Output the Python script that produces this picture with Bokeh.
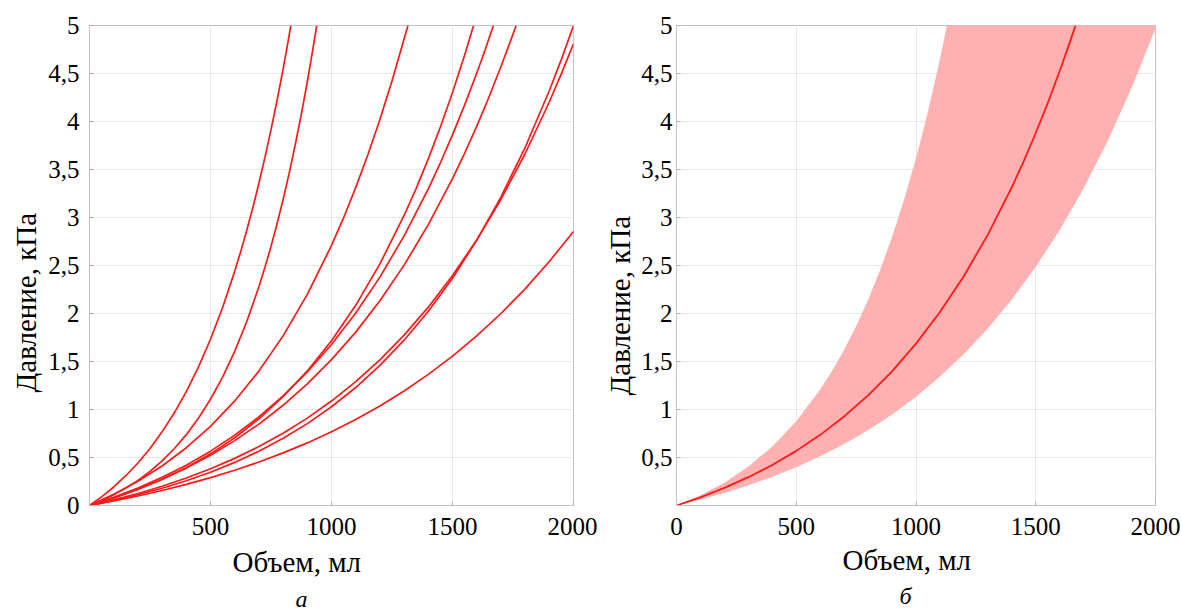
from bokeh.plotting import figure
from bokeh.layouts import row
from bokeh.models import FixedTicker, CustomJSTickFormatter, Range1d, Title
from bokeh.embed import file_html
from bokeh.resources import INLINE

# ---------------- data: panel "а" (individual pressure-volume curves) ----------------
c1_v = [0, 50, 100, 150, 200, 250, 300, 350, 400, 450, 500, 550, 600, 625, 650, 675, 700, 725, 750, 775, 800, 815, 832]
c1_p = [0, 0.090, 0.193, 0.310, 0.443, 0.594, 0.767, 0.963, 1.187, 1.442, 1.732, 2.063, 2.439, 2.647, 2.868, 3.104,
        3.357, 3.626, 3.913, 4.219, 4.546, 4.753, 5.0]

c2_v = [0, 50, 100, 150, 200, 250, 300, 350, 400, 450, 500, 550, 600, 650, 700, 725, 750, 775, 800, 825, 850, 875, 900, 920, 939]
c2_p = [0, 0.051, 0.111, 0.181, 0.261, 0.355, 0.464, 0.591, 0.738, 0.909, 1.107, 1.338, 1.606, 1.917, 2.279, 2.481,
        2.699, 2.934, 3.187, 3.460, 3.755, 4.072, 4.414, 4.706, 5.0]

c3_v = [0, 100, 200, 300, 400, 500, 600, 700, 800, 900, 1000, 1050, 1100, 1150, 1200, 1250, 1316]
c3_p = [0, 0.116, 0.252, 0.412, 0.602, 0.825, 1.089, 1.400, 1.767, 2.199, 2.709, 2.997, 3.311, 3.651, 4.020, 4.421, 5.0]

c4_v = [0, 100, 200, 300, 400, 500, 600, 700, 800, 900, 1000, 1100, 1200, 1300, 1350, 1400, 1450, 1500, 1550, 1587]
c4_p = [0, 0.077, 0.166, 0.271, 0.394, 0.538, 0.706, 0.903, 1.133, 1.402, 1.717, 2.085, 2.517, 3.021, 3.304, 3.611, 3.943, 4.302, 4.690, 5.0]

c5_v = [0, 100, 200, 300, 400, 500, 600, 700, 800, 900, 1000, 1100, 1200, 1300, 1400, 1450, 1500, 1550, 1600, 1635, 1669]
c5_p = [0, 0.085, 0.182, 0.293, 0.420, 0.566, 0.733, 0.923, 1.142, 1.391, 1.677, 2.005, 2.379, 2.808, 3.299, 3.570, 3.860, 4.171, 4.503, 4.748, 5.0]

c6_v = [0, 100, 200, 300, 400, 500, 600, 700, 800, 900, 1000, 1100, 1200, 1300, 1400, 1500, 1550, 1600, 1650, 1700, 1730, 1763]
c6_p = [0, 0.080, 0.171, 0.274, 0.391, 0.524, 0.676, 0.848, 1.044, 1.266, 1.519, 1.806, 2.133, 2.504, 2.926, 3.405, 3.669, 3.950, 4.250, 4.570, 4.772, 5.0]

c7_v = [0, 100, 200, 300, 400, 500, 600, 700, 800, 900, 1000, 1100, 1200, 1300, 1400, 1500, 1600, 1700, 1800, 1900, 1950, 2000]
c7_p = [0, 0.052, 0.112, 0.180, 0.258, 0.347, 0.449, 0.566, 0.700, 0.853, 1.029, 1.229, 1.459, 1.722, 2.023, 2.367, 2.762, 3.213, 3.729, 4.320, 4.647, 5.0]

c8_v = [0, 100, 200, 300, 400, 500, 600, 700, 800, 900, 1000, 1100, 1200, 1300, 1400, 1500, 1600, 1700, 1800, 1900, 1950, 2000]
c8_p = [0, 0.059, 0.125, 0.201, 0.286, 0.382, 0.491, 0.614, 0.753, 0.910, 1.088, 1.290, 1.517, 1.775, 2.066, 2.395, 2.767, 3.188, 3.664, 4.203, 4.498, 4.81]

c9_v = [0, 100, 200, 300, 400, 500, 600, 700, 800, 900, 1000, 1100, 1200, 1300, 1400, 1500, 1600, 1700, 1800, 1900, 2000]
c9_p = [0, 0.047, 0.099, 0.156, 0.220, 0.290, 0.367, 0.453, 0.548, 0.652, 0.768, 0.896, 1.037, 1.193, 1.366, 1.556, 1.767, 2.000, 2.257, 2.542, 2.855]

curves_v = [c1_v, c2_v, c3_v, c4_v, c5_v, c6_v, c7_v, c8_v, c9_v]
curves_p = [c1_p, c2_p, c3_p, c4_p, c5_p, c6_p, c7_p, c8_p, c9_p]

# ---------------- data: panel "б" (mean curve and spread band) ----------------
mean_v = [0, 100, 200, 300, 400, 500, 600, 700, 800, 900, 1000, 1100, 1200, 1300, 1400, 1450, 1500, 1550, 1600, 1635, 1666]
mean_p = [0, 0.085, 0.183, 0.295, 0.422, 0.569, 0.736, 0.928, 1.147, 1.398, 1.686, 2.015, 2.391, 2.822, 3.315, 3.588, 3.880, 4.192, 4.526, 4.772, 5.0]

band_v = [0, 100, 200, 300, 400, 500, 600, 650, 700, 750, 800, 850, 900, 950, 1000, 1025, 1050, 1075, 1100, 1129,
          1200, 1300, 1400, 1500, 1600, 1700, 1800, 1900, 2000]
band_lo = [0, 0.062, 0.131, 0.210, 0.299, 0.399, 0.513, 0.575, 0.641, 0.711, 0.786, 0.865, 0.949, 1.039, 1.134, 1.184, 1.236, 1.288, 1.343, 1.411,
           1.579, 1.845, 2.146, 2.486, 2.870, 3.304, 3.795, 4.349, 4.97]
band_hi = [0, 0.106, 0.238, 0.405, 0.614, 0.877, 1.208, 1.403, 1.622, 1.868, 2.144, 2.452, 2.798, 3.186, 3.620, 3.857, 4.107, 4.373, 4.653, 5.0,
           5.0, 5.0, 5.0, 5.0, 5.0, 5.0, 5.0, 5.0, 5.0]

# ticks
x_ticks_a = [500, 1000, 1500, 2000]
x_ticks_b = [0, 500, 1000, 1500, 2000]
y_ticks_a = [0, 0.5, 1, 1.5, 2, 2.5, 3, 3.5, 4, 4.5, 5]
y_ticks_b = [0.5, 1, 1.5, 2, 2.5, 3, 3.5, 4, 4.5, 5]

X_TITLE = "Объем, мл"
Y_TITLE = "Давление, кПа"
CAPTION_A = "а"
CAPTION_B = "б"

FONT = "Liberation Serif"
RED = "#ff1a1a"
GRID = "#e8e8e8"
EDGE = "#c4c4c4"


def make_fig(width, bl, br, bt, bb, xt, yt, y_lab_sd):
    p = figure(width=width, height=613, x_range=Range1d(0, 2000), y_range=Range1d(0, 5),
               output_backend="svg", toolbar_location=None,
               min_border_left=bl, min_border_right=br, min_border_top=bt, min_border_bottom=bb)
    p.outline_line_color = EDGE
    p.background_fill_color = "white"
    p.border_fill_color = "white"
    p.xaxis.ticker = FixedTicker(ticks=xt)
    p.yaxis.ticker = FixedTicker(ticks=yt)
    p.xaxis.formatter = CustomJSTickFormatter(code="return String(tick);")
    p.yaxis.formatter = CustomJSTickFormatter(code="return String(tick).replace('.', ',');")
    for ax in list(p.xaxis) + list(p.yaxis):
        ax.axis_line_color = EDGE
        ax.major_tick_line_color = "#b0b0b0"
        ax.major_tick_in = 4
        ax.major_tick_out = 0
        ax.minor_tick_line_color = None
        ax.major_label_text_font = FONT
        ax.major_label_text_font_size = "25px"
        ax.major_label_text_color = "black"
    p.xaxis.major_label_standoff = 12
    p.yaxis.major_label_standoff = y_lab_sd
    p.grid.grid_line_color = GRID
    p.grid.grid_line_width = 1
    return p


def text_title(text, offset, standoff, size="29px", style="normal"):
    # axis titles / captions placed in the side panels next to the axes
    return Title(text=text, align="left", offset=offset, standoff=standoff,
                 text_font=FONT, text_font_size=size, text_font_style=style,
                 text_color="black")


# ---------------- panel а ----------------
pa = make_fig(597, 89, 24, 21, 107, x_ticks_a, y_ticks_a, 10)
for v, pr in zip(curves_v, curves_p):
    pa.line(v, pr, line_color=RED, line_width=1.7)
pa.add_layout(text_title(Y_TITLE, 113, 8), "left")
pa.add_layout(text_title(X_TITLE, 143, 12), "below")
pa.add_layout(text_title(CAPTION_A, 206, 0, "24px", "italic"), "below")

# ---------------- panel б ----------------
pb = make_fig(584, 79, 26, 25, 108, x_ticks_b, y_ticks_b, 4)
pb.varea(x=band_v, y1=band_lo, y2=band_hi, fill_color="#ffb0b0", fill_alpha=1.0)
pb.line(mean_v, mean_p, line_color=RED, line_width=1.8)
pb.add_layout(text_title(Y_TITLE, 110, 6), "left")
pb.add_layout(text_title(X_TITLE, 166, 8), "below")
pb.add_layout(text_title(CAPTION_B, 223, 3, "24px", "italic"), "below")

layout = row(pa, pb)
open("out.html", "w").write(file_html(layout, INLINE))
